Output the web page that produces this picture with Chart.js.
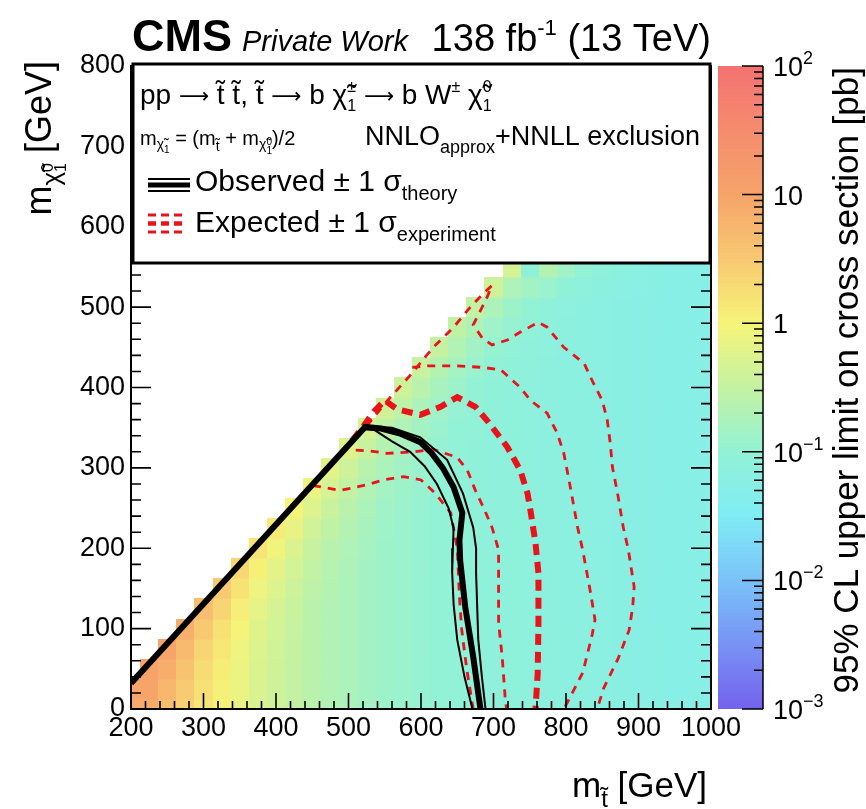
<!DOCTYPE html>
<html><head><meta charset="utf-8">
<script src="https://cdn.jsdelivr.net/npm/chart.js@4.4.1/dist/chart.umd.min.js"></script>
<style>html,body{margin:0;padding:0;background:#fff;overflow:hidden}canvas{display:block}</style>
</head><body>
<canvas id="c" width="866" height="809" style="width:866px;height:809px"></canvas>
<script>
// ---------------- DATA ----------------
// bin centres (GeV)
const xBins = [200,225,250,275,300,325,350,375,400,425,450,475,500,525,550,575,600,625,650,675,700,725,750,775,800,825,850,875,900,925,950,975,1000];
const yBins = [0,25,50,75,100,125,150,175,200,225,250,275,300,325,350,375,400,425,450,475,500,525,550];
// first populated stop-mass bin of each LSP-mass row
const rowFirstX = [200,200,225,250,275,300,325,350,375,400,425,450,475,500,525,550,575,600,625,650,675,700,725];
// 95% CL upper limit on cross section [pb], one array per LSP-mass row
const sigmaRows = [
 [8.0,7.5,4.4,2.6,1.5,1.05,0.71,0.50,0.40,0.32,0.25,0.21,0.18,0.15,0.13,0.12,0.11,0.10,0.093,0.087,0.081,0.079,0.076,0.072,0.069,0.066,0.063,0.060,0.058,0.055,0.054,0.052,0.050],
 [10,10,5.3,3.0,1.7,1.1,0.75,0.51,0.40,0.32,0.25,0.21,0.18,0.15,0.13,0.12,0.11,0.10,0.093,0.088,0.082,0.079,0.075,0.072,0.069,0.066,0.063,0.060,0.058,0.056,0.054,0.052,0.050],
 [11,7.2,3.7,1.9,1.2,0.78,0.53,0.41,0.32,0.25,0.21,0.18,0.15,0.13,0.12,0.11,0.10,0.094,0.088,0.082,0.079,0.076,0.072,0.069,0.066,0.063,0.060,0.058,0.056,0.054,0.052,0.051],
 [10,4.9,2.3,1.38,0.85,0.55,0.42,0.33,0.25,0.21,0.18,0.15,0.13,0.12,0.11,0.10,0.094,0.088,0.082,0.079,0.076,0.073,0.069,0.066,0.063,0.060,0.058,0.056,0.054,0.052,0.051],
 [7.0,3.1,1.66,0.98,0.60,0.44,0.34,0.25,0.21,0.18,0.15,0.13,0.12,0.11,0.10,0.095,0.088,0.083,0.080,0.076,0.073,0.070,0.066,0.063,0.060,0.058,0.056,0.054,0.052,0.051],
 [4.4,2.24,1.18,0.69,0.48,0.35,0.26,0.21,0.18,0.15,0.13,0.12,0.11,0.10,0.094,0.088,0.082,0.079,0.076,0.072,0.069,0.066,0.063,0.060,0.058,0.055,0.054,0.052,0.050],
 [3.16,1.6,0.83,0.55,0.38,0.275,0.22,0.18,0.15,0.13,0.12,0.11,0.10,0.094,0.087,0.082,0.079,0.076,0.072,0.069,0.066,0.063,0.060,0.058,0.055,0.054,0.052,0.050],
 [2.2,1.12,0.66,0.44,0.30,0.23,0.19,0.15,0.13,0.12,0.11,0.10,0.093,0.088,0.081,0.079,0.076,0.072,0.069,0.066,0.063,0.060,0.058,0.055,0.054,0.052,0.050],
 [1.58,0.9,0.53,0.345,0.25,0.20,0.16,0.13,0.12,0.11,0.10,0.094,0.087,0.082,0.079,0.076,0.072,0.069,0.066,0.063,0.060,0.058,0.055,0.054,0.052,0.050],
 [1.26,0.72,0.415,0.29,0.22,0.165,0.137,0.12,0.11,0.10,0.093,0.088,0.081,0.079,0.076,0.072,0.069,0.066,0.063,0.060,0.058,0.055,0.054,0.052,0.050],
 [1.0,0.56,0.35,0.25,0.18,0.14,0.126,0.11,0.10,0.094,0.087,0.082,0.079,0.075,0.072,0.069,0.066,0.063,0.060,0.058,0.055,0.054,0.052,0.050],
 [0.79,0.47,0.30,0.21,0.156,0.13,0.115,0.10,0.093,0.088,0.081,0.079,0.076,0.072,0.069,0.066,0.063,0.060,0.058,0.055,0.054,0.052,0.050],
 [0.66,0.40,0.25,0.18,0.144,0.12,0.105,0.095,0.087,0.082,0.079,0.076,0.072,0.069,0.066,0.063,0.060,0.058,0.055,0.054,0.052,0.050],
 [0.57,0.34,0.22,0.166,0.13,0.11,0.098,0.088,0.082,0.079,0.076,0.072,0.069,0.066,0.063,0.060,0.058,0.055,0.054,0.052,0.050],
 [0.47,0.29,0.20,0.15,0.12,0.10,0.091,0.083,0.079,0.076,0.072,0.069,0.066,0.063,0.060,0.058,0.055,0.054,0.052,0.050],
 [0.41,0.27,0.18,0.14,0.11,0.096,0.085,0.079,0.076,0.072,0.069,0.066,0.063,0.060,0.058,0.055,0.054,0.052,0.050],
 [0.38,0.25,0.166,0.128,0.104,0.089,0.083,0.076,0.072,0.069,0.066,0.063,0.060,0.058,0.055,0.054,0.052,0.050],
 [0.35,0.22,0.154,0.12,0.097,0.087,0.080,0.072,0.069,0.066,0.063,0.060,0.058,0.055,0.054,0.052,0.050],
 [0.32,0.21,0.144,0.112,0.095,0.084,0.076,0.069,0.066,0.063,0.060,0.058,0.055,0.054,0.052,0.050],
 [0.29,0.195,0.134,0.109,0.091,0.079,0.072,0.066,0.063,0.060,0.058,0.055,0.054,0.052,0.050],
 [0.30,0.18,0.131,0.105,0.086,0.076,0.069,0.063,0.060,0.058,0.055,0.054,0.052,0.050],
 [0.40,0.20,0.15,0.12,0.09,0.078,0.070,0.062,0.059,0.056,0.054,0.052,0.050],
 [0.45,0.09,0.22,0.14,0.10,0.08,0.07,0.062,0.058,0.055,0.052,0.050]
];
// exclusion contours [m_stop, m_LSP]
const obsCentral = [[200,32],[523,351],[545,349],[570,343],[599,332],[615,318],[630,300],[645,276],[657,244],[653,210],[654,185],[661,127],[672,65],[682,0]];
const obsTheoryUp = [[200,32],[523,352],[560,350],[599,338],[636,310],[658,268],[672,226],[676,200],[676,169],[679,86],[684,40],[689,0]];
const obsTheoryDown = [[200,32],[520,348],[536,347],[560,333],[585,320],[605,302],[622,280],[638,250],[645,225],[644,200],[643,170],[645,130],[650,86],[660,40],[671,0]];
const expCentral = [[505,334],[520,351],[535,370],[550,384],[567,373],[599,366],[627,376],[650,388],[675,376],[693,357],[719,326],[737,297],[747,268],[751,247],[758,206],[762,169],[762,107],[761,45],[758,0]];
const expDown1 = [[510,322],[530,321],[553,318],[590,320],[617,323],[650,313],[664,297],[675,272],[686,251],[698,226],[707,198],[707,169],[707,107],[712,65],[716,15],[718,0]];
const expDown2 = [[451,278],[489,272],[526,279],[548,285],[576,289],[600,285],[620,268],[641,244],[650,200],[653,140],[656,100],[663,50],[672,0]];
const expUp1 = [[588,425],[610,427],[650,427],[685,425],[710,422],[737,400],[751,384],[774,368],[788,343],[797,318],[806,276],[816,226],[823,198],[834,144],[840,111],[836,92],[830,70],[823,45],[811,24],[797,0]];
const expUp2 = [[525,352],[554,384],[585,415],[606,438],[617,450],[645,475],[668,500],[686,517],[698,527],[690,510],[672,478],[685,461],[698,453],[719,459],[737,469],[762,481],[774,475],[797,450],[825,430],[838,405],[850,384],[857,359],[861,331],[864,301],[871,269],[879,226],[886,198],[894,152],[892,127],[887,98],[872,63],[852,26],[843,0]];
// colour axis
const zTicks = [0.001,0.01,0.1,1,10,100];
const zTickLabels = [['10','\u22123'],['10','\u22122'],['10','\u22121'],['1',''],['10',''],['10','2']];
// palette (log10 sigma -> rgb)
const paletteLog = [-3,-2.5,-2,-1.5,-1,-0.5,0,0.5,1,1.5,2];
const paletteRGB = [[116,98,238],[120,146,244],[122,194,248],[128,236,244],[146,242,214],[196,242,162],[246,244,120],[248,200,114],[246,164,106],[245,140,110],[244,114,114]];

// ---------------- helpers ----------------
const FAM = '"Liberation Sans", Arial, sans-serif';
function colorFor(v){
  const L = Math.log10(v);
  if (L <= paletteLog[0]) return 'rgb('+paletteRGB[0].join(',')+')';
  for (let i=1;i<paletteLog.length;i++){
    if (L <= paletteLog[i]){
      const f=(L-paletteLog[i-1])/(paletteLog[i]-paletteLog[i-1]);
      const a=paletteRGB[i-1], b=paletteRGB[i];
      return 'rgb('+[0,1,2].map(k=>Math.round(a[k]+(b[k]-a[k])*f)).join(',')+')';
    }
  }
  return 'rgb('+paletteRGB[paletteRGB.length-1].join(',')+')';
}
function drawRich(ctx, parts, x, y, align){
  const items=[]; let w=0;
  for (const p of parts){
    const fam = p.fam || FAM;
    const font=(p.style||'normal')+' '+(p.weight||'normal')+' '+p.size+'px '+fam;
    ctx.font=font;
    let ww;
    if (p.stack) ww=Math.max(...p.stack.map(s=>ctx.measureText(s.t).width));
    else ww=ctx.measureText(p.t).width;
    items.push({p,font,w:ww}); w+=ww;
  }
  let cx = align==='right' ? x-w : (align==='center' ? x-w/2 : x);
  ctx.textAlign='left'; ctx.textBaseline='alphabetic';
  for (const it of items){
    ctx.font=it.font;
    if (it.p.stack) it.p.stack.forEach(s=>ctx.fillText(s.t,cx,y+s.dy));
    else ctx.fillText(it.p.t,cx,y+(it.p.dy||0));
    cx+=it.w;
  }
  return w;
}
const pts = a => a.map(p=>({x:p[0],y:p[1]}));
function lineDS(data,color,width,dash){
  return {data:pts(data),showLine:true,borderColor:color,borderWidth:width,borderDash:dash||[],pointRadius:0,tension:0,fill:false,xAxisID:'x',yAxisID:'y'};
}

// ---------------- plugins ----------------
const heatmap = {
  id:'heatmap',
  beforeDatasetsDraw(chart){
    const {ctx, chartArea:a, scales:{x,y}} = chart;
    ctx.save();
    ctx.beginPath(); ctx.rect(a.left,a.top,a.right-a.left,a.bottom-a.top); ctx.clip();
    sigmaRows.forEach((row,r)=>{
      const cy=yBins[r];
      const i0=xBins.indexOf(rowFirstX[r]);
      row.forEach((v,i)=>{
        const cx=xBins[i0+i];
        if (cx===undefined) return;
        const px0=Math.round(x.getPixelForValue(cx-12.5)), px1=Math.round(x.getPixelForValue(cx+12.5));
        const py0=Math.round(y.getPixelForValue(cy+12.5)), py1=Math.round(y.getPixelForValue(cy-12.5));
        ctx.fillStyle=colorFor(v);
        ctx.fillRect(px0,py0,px1-px0+0.6,py1-py0+0.6);
      });
    });
    ctx.restore();
  }
};

const SP = {t:' ',size:28};
const AR = {t:'\u27f6',size:21,dy:-1,fam:'"DejaVu Sans"'};
const frame = {
  id:'frame',
  afterDatasetsDraw(chart){
    const {ctx, chartArea:a, scales:{x,y}} = chart;
    ctx.save();
    ctx.strokeStyle='#000'; ctx.lineWidth=1.6;
    ctx.beginPath();
    for (let v=x.min; v<=x.max+0.01; v+=20){
      const px=x.getPixelForValue(v); const major=(v%100===0); const L=major?16:8;
      ctx.moveTo(px,a.bottom); ctx.lineTo(px,a.bottom-L);
      ctx.moveTo(px,a.top); ctx.lineTo(px,a.top+L);
    }
    for (let v=y.min; v<=y.max+0.01; v+=20){
      const py=y.getPixelForValue(v); const major=(v%100===0); const L=major?20:10;
      ctx.moveTo(a.left,py); ctx.lineTo(a.left+L,py);
      ctx.moveTo(a.right,py); ctx.lineTo(a.right-L,py);
    }
    ctx.stroke();
    ctx.lineWidth=2;
    ctx.strokeRect(a.left,a.top,a.right-a.left,a.bottom-a.top);
    // legend box
    const bx=a.left+2, by=a.top-2, bw=a.right-a.left-3, bh=199;
    ctx.fillStyle='#fff'; ctx.fillRect(bx,by,bw,bh);
    ctx.lineWidth=3; ctx.strokeStyle='#000'; ctx.strokeRect(bx,by,bw,bh);
    ctx.fillStyle='#000';
    drawRich(ctx,[
      {t:'pp',size:28},SP,AR,SP,{t:'t\u0303 t\u0303, t\u0303',size:28},SP,AR,SP,
      {t:'b \u03c7\u0303',size:28},
      {stack:[{t:'\u00b1',dy:-12},{t:'1',dy:7}],size:16},
      SP,AR,SP,{t:'b W',size:28},{t:'\u00b1',size:16,dy:-12},
      {t:' \u03c7\u0303',size:28},{stack:[{t:'0',dy:-12},{t:'1',dy:7}],size:16}
    ], bx+7, by+40, 'left');
    drawRich(ctx,[
      {t:'m',size:20},{t:'\u03c7\u0303',size:14,dy:4},{t:'1',size:10,dy:8},
      {t:' = (m',size:20},{t:'t\u0303',size:14,dy:6},{t:' + m',size:20},
      {t:'\u03c7\u0303',size:14,dy:4},{stack:[{t:'0',dy:0},{t:'1',dy:9}],size:10},{t:')/2',size:20}
    ], bx+7, by+81, 'left');
    drawRich(ctx,[{t:'NNLO',size:27},{t:'approx',size:18,dy:8},{t:'+NNLL exclusion',size:27}], bx+232, by+81, 'left');
    const sx0=bx+15, sx1=bx+57;
    ctx.strokeStyle='#000'; ctx.setLineDash([]);
    ctx.lineWidth=2; ctx.beginPath(); ctx.moveTo(sx0,by+115); ctx.lineTo(sx1,by+115); ctx.moveTo(sx0,by+127); ctx.lineTo(sx1,by+127); ctx.stroke();
    ctx.lineWidth=5; ctx.beginPath(); ctx.moveTo(sx0,by+121); ctx.lineTo(sx1,by+121); ctx.stroke();
    ctx.strokeStyle='#e8141c'; ctx.setLineDash([8,5]);
    ctx.lineWidth=3; ctx.beginPath(); ctx.moveTo(sx0,by+151); ctx.lineTo(sx1-4,by+151); ctx.moveTo(sx0,by+168); ctx.lineTo(sx1-4,by+168); ctx.stroke();
    ctx.lineWidth=4.5; ctx.beginPath(); ctx.moveTo(sx0,by+159.5); ctx.lineTo(sx1-4,by+159.5); ctx.stroke();
    ctx.setLineDash([]);
    ctx.fillStyle='#000';
    drawRich(ctx,[{t:'Observed \u00b1 1 \u03c3',size:30},{t:'theory',size:20,dy:9}], bx+62, by+127, 'left');
    drawRich(ctx,[{t:'Expected \u00b1 1 \u03c3',size:30},{t:'experiment',size:20,dy:9}], bx+62, by+168, 'left');
    ctx.restore();
  },
  afterDraw(chart){
    const {ctx, chartArea:a, scales:{z}} = chart;
    ctx.save();
    const cx0=z.left+7, cx1=z.left+52;
    for (let py=Math.floor(z.top); py<z.bottom; py++){
      ctx.fillStyle=colorFor(z.getValueForPixel(py+0.5));
      ctx.fillRect(cx0,py,cx1-cx0,1);
    }
    ctx.strokeStyle='#000'; ctx.lineWidth=1.5;
    ctx.beginPath(); ctx.moveTo(cx1,z.top); ctx.lineTo(cx1,z.bottom);
    for (let d=-3; d<2; d++){
      for (let k=2;k<=9;k++){
        const py=z.getPixelForValue(k*Math.pow(10,d));
        ctx.moveTo(cx1,py); ctx.lineTo(cx1-9,py);
      }
    }
    zTicks.forEach(v=>{const py=z.getPixelForValue(v); ctx.moveTo(cx1,py); ctx.lineTo(cx1-21,py);});
    ctx.stroke();
    ctx.fillStyle='#000';
    zTicks.forEach((v,i)=>{
      const py=z.getPixelForValue(v);
      const parts=[{t:zTickLabels[i][0],size:27}];
      if (zTickLabels[i][1]) parts.push({t:zTickLabels[i][1],size:18,dy:-12});
      drawRich(ctx,parts,cx1+10,py+10,'left');
    });
    ctx.save(); ctx.translate(858,a.top+1); ctx.rotate(-Math.PI/2);
    drawRich(ctx,[{t:'95% CL upper limit on cross section [pb]',size:35}],0,0,'right');
    ctx.restore();
    ctx.save(); ctx.translate(51,a.top-5); ctx.rotate(-Math.PI/2);
    drawRich(ctx,[{t:'m',size:36},{t:'\u03c7\u0303',size:26,dy:9},{stack:[{t:'0',dy:2},{t:'1',dy:15}],size:16},{t:' [GeV]',size:36}],0,0,'right');
    ctx.restore();
    drawRich(ctx,[{t:'m',size:35},{t:'t\u0303',size:24,dy:10},{t:' [GeV]',size:35}], a.right-4, 797, 'right');
    // header
    ctx.font='bold 45px '+FAM; ctx.textAlign='left'; ctx.textBaseline='alphabetic';
    ctx.fillText('CMS',a.left+1,51);
    const wc=ctx.measureText('CMS').width;
    ctx.font='italic 29px '+FAM; ctx.fillText('Private Work',a.left+1+wc+10,51);
    drawRich(ctx,[{t:'138 fb',size:38},{t:'-1',size:22,dy:-16},{t:' (13 TeV)',size:38}], a.right, 51, 'right');
    ctx.restore();
  }
};

// ---------------- chart ----------------
const RED='#e8141c';
new Chart(document.getElementById('c').getContext('2d'),{
  type:'scatter',
  data:{datasets:[
    lineDS(obsCentral,'#000',6),
    lineDS(obsTheoryUp,'#000',2),
    lineDS(obsTheoryDown,'#000',2),
    lineDS(expCentral,RED,6,[11,7]),
    lineDS(expDown1,RED,2.8,[8,7]),
    lineDS(expDown2,RED,2.8,[8,7]),
    lineDS(expUp1,RED,2.8,[8,7]),
    lineDS(expUp2,RED,2.8,[8,7])
  ]},
  options:{
    responsive:false, animation:false, devicePixelRatio:1,
    layout:{padding:{top:66,left:0,right:0,bottom:0}},
    plugins:{legend:{display:false},tooltip:{enabled:false}},
    scales:{
      x:{type:'linear',position:'bottom',min:200,max:1000,
         ticks:{stepSize:100,autoSkip:false,maxRotation:0,color:'#000',padding:3,font:{family:'Liberation Sans',size:27},callback:v=>String(v)},
         grid:{display:false,drawTicks:false},border:{display:false},
         afterFit(s){s.height=100;}},
      y:{type:'linear',position:'left',min:0,max:800,
         ticks:{stepSize:100,autoSkip:false,color:'#000',padding:6,font:{family:'Liberation Sans',size:27},callback:v=>String(v)},
         grid:{display:false,drawTicks:false},border:{display:false},
         afterFit(s){s.width=131;}},
      z:{type:'logarithmic',axis:'y',position:'right',min:0.001,max:100,
         ticks:{display:false},grid:{display:false,drawTicks:false},border:{display:false},
         afterFit(s){s.width=155;}}
    }
  },
  plugins:[heatmap,frame]
});
</script></body></html>
